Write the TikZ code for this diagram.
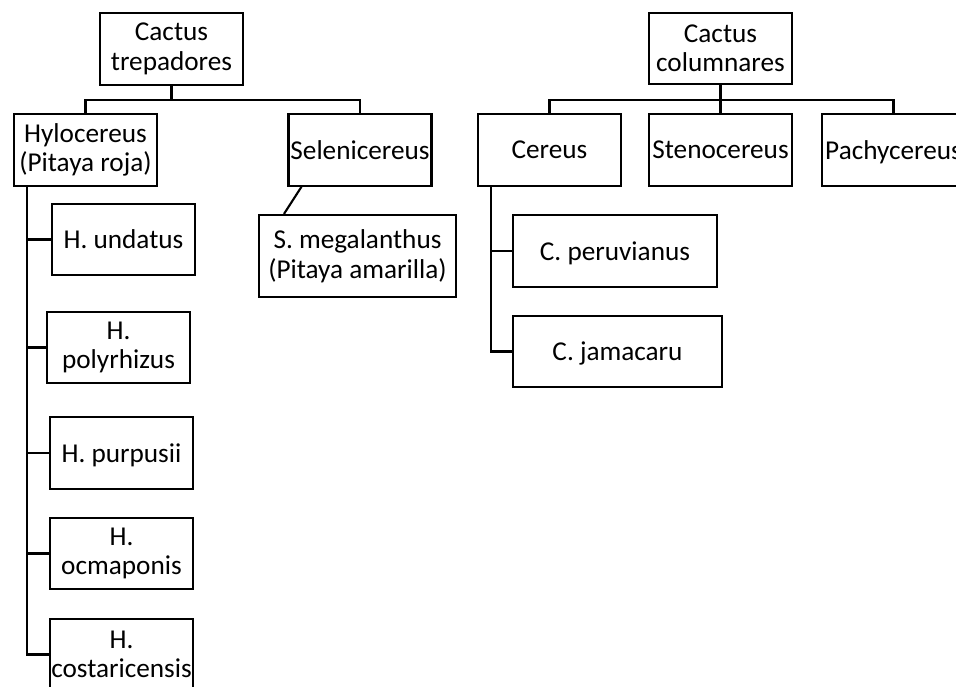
\documentclass[tikz,border=0pt]{standalone}
\usepackage{fontspec}
\setmainfont{Carlito}
\usetikzlibrary{positioning}

\begin{document}
\begin{tikzpicture}[x=0.02cm,y=-0.02cm,line width=1.2pt,
      every node/.style={font=\fontsize{15.5}{16.8}\selectfont},
      box/.style={draw,line width=1.2pt,align=center,inner xsep=0.5pt,minimum width=2.86cm,minimum height=1.43cm},
      onebox/.style={box,text depth=0pt},
      widebox/.style={onebox,minimum width=#1}]
      \useasboundingbox (0,0) rectangle (956,686);
      % cactus trepadores
      \node[box] (trep) at (171.5,49) {Cactus\\trepadores};
      \node[box] (hylo) at (85.5,150) {Hylocereus\\(Pitaya roja)};
      \node[onebox] (sele) at (360,150) {Selenicereus};
      \node[box,minimum width=3.94cm,minimum height=1.64cm] (mega) at (357.5,256) {S. megalanthus\\(Pitaya amarilla)};
      \node[onebox] (undatus) at (123.5,239.5) {H. undatus};
      \node[box] (polyrh) at (118.5,347.5) {H.\\polyrhizus};
      \node[onebox] (purpus) at (121.5,453) {H. purpusii};
      \node[box] (ocmap) at (121.5,553.5) {H.\\ocmaponis};
      \node[box] (costa) at (121.5,654.5) {H.\\costaricensis};
      % cactus columnares
      \node[box] (colum) at (720.5,48.5) {Cactus\\columnares};
      \node[onebox] (cereus) at (549.5,150) {Cereus};
      \node[onebox] (steno) at (720.5,150) {Stenocereus};
      \node[onebox] (pachy) at (893.5,150) {Pachycereus};
      \node[widebox=4.08cm] (peruv) at (615,251) {C. peruvianus};
      \node[widebox=4.18cm] (jamac) at (617.5,351.5) {C. jamacaru};

      \draw (trep.south) -- +(0,14) -| (hylo.north);
      \draw (trep.south) -- +(0,14) -| (sele.north);
      \draw ([xshift=0.28cm]sele.south west) -- ([xshift=0.52cm]mega.north west);
      \foreach \n in {undatus,polyrh,purpus,ocmap,costa}
        \draw (hylo.south west) ++(14,0) |- (\n.west);
      \foreach \n in {cereus,steno,pachy}
        \draw (colum.south) -- +(0,15) -| (\n.north);
      \foreach \n in {peruv,jamac}
        \draw (cereus.south west) ++(14,0) |- (\n.west);
    \end{tikzpicture}
\end{document}
